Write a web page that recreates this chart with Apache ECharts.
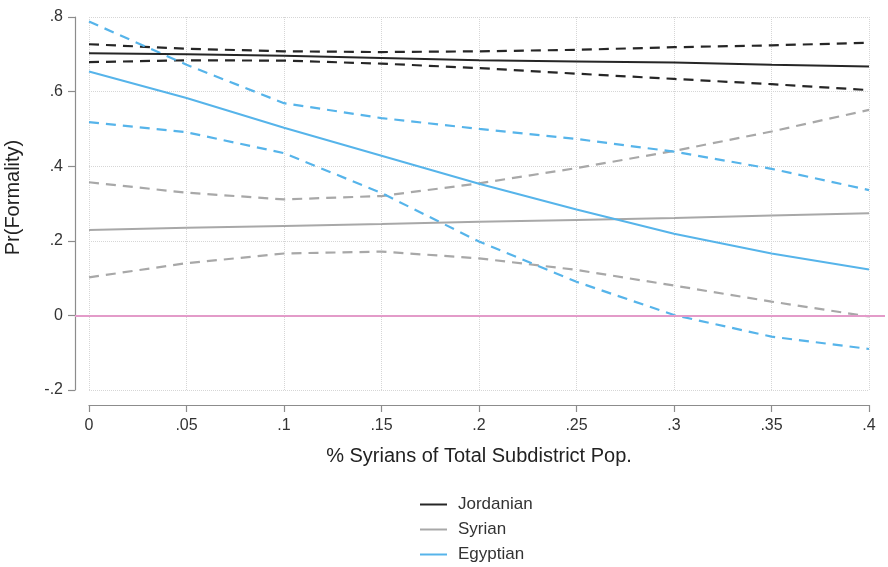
<!DOCTYPE html>
<html>
<head>
<meta charset="utf-8">
<script src="https://cdn.jsdelivr.net/npm/echarts@6/dist/echarts.min.js"></script>
<style>
html,body{margin:0;padding:0;background:#fff;}
#chart{width:888px;height:567px;}
</style>
</head>
<body>
<div id="chart"></div>
<script>
// Share of Syrians in subdistrict population
var xVals = [0, 0.05, 0.1, 0.15, 0.2, 0.25, 0.3, 0.35, 0.4];

var jordMean  = [0.703, 0.700, 0.696, 0.690, 0.684, 0.681, 0.678, 0.672, 0.667];
var jordUpper = [0.727, 0.715, 0.708, 0.706, 0.708, 0.712, 0.719, 0.724, 0.731];
var jordLower = [0.679, 0.684, 0.683, 0.675, 0.663, 0.648, 0.634, 0.620, 0.604];

var syrMean  = [0.229, 0.235, 0.240, 0.245, 0.251, 0.256, 0.261, 0.268, 0.274];
var syrUpper = [0.357, 0.329, 0.311, 0.320, 0.354, 0.395, 0.441, 0.493, 0.551];
var syrLower = [0.102, 0.140, 0.166, 0.171, 0.153, 0.122, 0.080, 0.037, -0.003];

var egyMean  = [0.654, 0.583, 0.503, 0.428, 0.353, 0.284, 0.219, 0.166, 0.123];
var egyUpper = [0.788, 0.672, 0.569, 0.529, 0.500, 0.473, 0.439, 0.393, 0.336];
var egyLower = [0.518, 0.491, 0.435, 0.328, 0.198, 0.090, 0.001, -0.057, -0.090];

var seriesNames = ['Jordanian', 'Syrian', 'Egyptian'];
var referenceY = 0;

function zip(ys) { return xVals.map(function (x, i) { return [x, ys[i]]; }); }
function fmt(v) {
  if (Math.abs(v) < 1e-9) return '0';
  var s = String(parseFloat(v.toFixed(2)));
  return s.replace(/^0\./, '.').replace(/^-0\./, '-.');
}

var FONT = '"Liberation Sans", Arial, sans-serif';
var colJ = '#262626', colS = '#a8a8a8', colE = '#56b4ea';
var dash = [10, 7];

function meanSeries(name, ys, color) {
  return { name: name, type: 'line', xAxisIndex: 0, yAxisIndex: 0, data: zip(ys),
    symbol: 'none', lineStyle: { color: color, width: 2 }, itemStyle: { color: color },
    z: 4, silent: true, animation: false };
}
function ciSeries(name, ys, color) {
  return { name: name, type: 'line', xAxisIndex: 0, yAxisIndex: 0, data: zip(ys),
    symbol: 'none', lineStyle: { color: color, width: 2.2, type: dash }, itemStyle: { color: color },
    z: 3, silent: true, animation: false };
}

var chart = echarts.init(document.getElementById('chart'), null, { renderer: 'canvas' });
chart.setOption({
  backgroundColor: '#ffffff',
  animation: false,
  textStyle: { fontFamily: FONT },
  grid: [
    { left: 89, right: 19, top: 17, bottom: 177, containLabel: false, outerBoundsMode: 'none' },
    { left: 75, right: 3, top: 17, bottom: 177, containLabel: false, outerBoundsMode: 'none' }
  ],
  xAxis: [
    { type: 'value', gridIndex: 0, min: 0, max: 0.4, interval: 0.05, offset: 15,
      name: '% Syrians of Total Subdistrict Pop.', nameLocation: 'middle', nameGap: 41,
      nameTextStyle: { fontSize: 20, color: '#222', fontFamily: FONT },
      axisLine: { show: true, onZero: false, lineStyle: { color: '#8c8c8c', width: 1.2 } },
      axisTick: { show: true, length: 7, lineStyle: { color: '#8c8c8c', width: 1.2 } },
      axisLabel: { fontSize: 16, color: '#333', margin: 13, fontFamily: FONT, formatter: fmt, showMinLabel: true, showMaxLabel: true },
      splitLine: { show: true, lineStyle: { color: '#d6d6d6', type: 'dotted', width: 1 } } },
    { type: 'value', gridIndex: 1, min: 0, max: 1, show: false }
  ],
  yAxis: [
    { type: 'value', gridIndex: 0, min: -0.2, max: 0.8, interval: 0.2, offset: 14,
      name: 'Pr(Formality)', nameLocation: 'middle', nameGap: 52,
      nameTextStyle: { fontSize: 20, color: '#222', fontFamily: FONT, padding: [0, 0, 0, 12] },
      axisLine: { show: true, onZero: false, lineStyle: { color: '#8c8c8c', width: 1.2 } },
      axisTick: { show: true, length: 7, lineStyle: { color: '#8c8c8c', width: 1.2 } },
      axisLabel: { fontSize: 16, color: '#333', margin: 12, fontFamily: FONT, formatter: fmt },
      splitLine: { show: true, lineStyle: { color: '#d6d6d6', type: 'dotted', width: 1 } } },
    { type: 'value', gridIndex: 1, min: -0.2, max: 0.8, show: false }
  ],
  legend: {
    data: seriesNames,
    orient: 'vertical', left: 415, top: 490, height: 76,
    icon: 'rect', itemWidth: 27, itemHeight: 2, itemGap: 6,
    textStyle: { fontSize: 17, color: '#333', fontFamily: FONT, lineHeight: 19, padding: [0, 0, 0, 6] },
    selectedMode: false
  },
  series: [
    { name: 'zero', type: 'line', xAxisIndex: 1, yAxisIndex: 1, data: [], symbol: 'none', silent: true, z: 1,
      markLine: { silent: true, symbol: 'none', label: { show: false },
        lineStyle: { color: '#e39bc9', width: 2, type: 'solid' },
        data: [{ yAxis: referenceY }] } },
    ciSeries('Jordanian upper', jordUpper, colJ),
    ciSeries('Jordanian lower', jordLower, colJ),
    ciSeries('Syrian upper', syrUpper, colS),
    ciSeries('Syrian lower', syrLower, colS),
    ciSeries('Egyptian upper', egyUpper, colE),
    ciSeries('Egyptian lower', egyLower, colE),
    meanSeries(seriesNames[0], jordMean, colJ),
    meanSeries(seriesNames[1], syrMean, colS),
    meanSeries(seriesNames[2], egyMean, colE)
  ]
});
</script>
</body>
</html>
